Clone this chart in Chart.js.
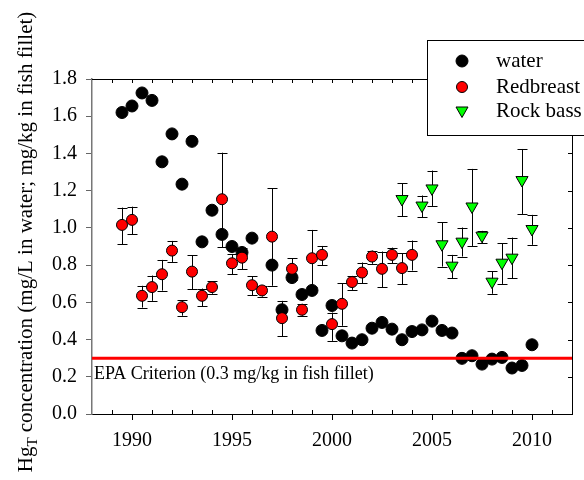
<!DOCTYPE html>
<html>
<head>
<meta charset="utf-8">
<script src="https://cdn.jsdelivr.net/npm/chart.js@4"></script>
<style>
  html, body { margin: 0; padding: 0; background: #fff; }
  #wrap { width: 584px; height: 480px; }
</style>
</head>
<body>
<div id="wrap"><canvas id="chart" width="584" height="480"></canvas></div>
<script>
// water (black circles)
var waterYears = [1989.5, 1990, 1990.5, 1991, 1991.5, 1992, 1992.5, 1993, 1993.5, 1994, 1994.5, 1995, 1995.5, 1996,
    1997, 1997.5, 1998, 1998.5, 1999, 1999.5, 2000, 2000.5, 2001, 2001.5, 2002, 2002.5, 2003, 2003.5, 2004, 2004.5,
    2005, 2005.5, 2006, 2006.5, 2007, 2007.5, 2008, 2008.5, 2009, 2009.5, 2010];
var waterValues = [1.62, 1.655, 1.725, 1.685, 1.355, 1.505, 1.235, 1.465, 0.925, 1.095, 0.965, 0.90, 0.868, 0.945,
    0.80, 0.56, 0.733, 0.642, 0.664, 0.449, 0.583, 0.42, 0.381, 0.399, 0.461, 0.492, 0.456, 0.399, 0.443, 0.452,
    0.499, 0.449, 0.435, 0.299, 0.313, 0.268, 0.295, 0.304, 0.247, 0.261, 0.372];

// Redbreast (red circles) with error bars
var redYears = [1989.5, 1990, 1990.5, 1991, 1991.5, 1992, 1992.5, 1993, 1993.5, 1994, 1994.5, 1995, 1995.5, 1996, 1996.5,
    1997, 1997.5, 1998, 1998.5, 1999, 1999.5, 2000, 2000.5, 2001, 2001.5, 2002, 2002.5, 2003, 2003.5, 2004];
var redValues = [1.016, 1.043, 0.635, 0.682, 0.751, 0.878, 0.574, 0.765, 0.635, 0.682, 1.154, 0.81, 0.84, 0.692, 0.664,
    0.953, 0.515, 0.78, 0.56, 0.837, 0.855, 0.483, 0.592, 0.709, 0.76, 0.846, 0.78, 0.855, 0.784, 0.855];
var redLow = [0.912, 0.966, 0.572, 0.608, 0.663, 0.817, 0.528, 0.669, 0.578, 0.646, 0.896, 0.75, 0.778, 0.639, 0.631,
    0.689, 0.417, 0.72, 0.528, 0.685, 0.801, 0.393, 0.474, 0.667, 0.703, 0.807, 0.682, 0.81, 0.698, 0.771];
var redHigh = [1.109, 1.114, 0.689, 0.744, 0.828, 0.93, 0.61, 0.853, 0.674, 0.712, 1.404, 0.86, 0.89, 0.739, 0.689,
    1.213, 0.608, 0.837, 0.592, 0.989, 0.903, 0.545, 0.703, 0.742, 0.814, 0.878, 0.873, 0.894, 0.864, 0.932];

// Rock bass (green triangles) with error bars
var bassYears = [2003.5, 2004.5, 2005, 2005.5, 2006, 2006.5, 2007, 2007.5, 2008, 2008.5, 2009, 2009.5, 2010];
var bassValues = [1.155, 1.12, 1.212, 0.912, 0.797, 0.926, 1.115, 0.958, 0.711, 0.813, 0.84, 1.257, 0.994];
var bassLow = [1.064, 1.057, 1.118, 0.792, 0.73, 0.846, 0.903, 0.918, 0.646, 0.699, 0.73, 1.075, 0.909];
var bassHigh = [1.24, 1.174, 1.308, 1.03, 0.855, 1.002, 1.317, 0.984, 0.766, 0.918, 0.948, 1.424, 1.07];

var xTicks = [1990, 1995, 2000, 2005, 2010];
var yTicks = [0, 0.2, 0.4, 0.6, 0.8, 1.0, 1.2, 1.4, 1.6, 1.8];
var epaLevel = 0.3;
var epaLabel = 'EPA Criterion (0.3 mg/kg in fish fillet)';
var legendLabels = ['water', 'Redbreast', 'Rock bass'];

var SERIF = '"Liberation Serif", "Times New Roman", serif';

function pts(xs, ys) {
    return xs.map(function(x, i) { return { x: x, y: ys[i] }; });
}

// error bars drawn just before the dataset's own markers
var errorBars = {
    id: 'errorBars',
    beforeDatasetDraw: function(chart, args) {
        var ds = chart.data.datasets[args.index];
        if (!ds.errLow) return;
        var ctx = chart.ctx, xs = chart.scales.x, ys = chart.scales.y;
        ctx.save();
        ctx.strokeStyle = '#000';
        ctx.lineWidth = 1;
        ds.data.forEach(function(p, i) {
            var px = Math.round(xs.getPixelForValue(p.x)) + 0.5;
            var lo = ys.getPixelForValue(ds.errLow[i]);
            var hi = ys.getPixelForValue(ds.errHigh[i]);
            ctx.beginPath();
            ctx.moveTo(px, lo); ctx.lineTo(px, hi);
            ctx.moveTo(px - 5, Math.round(lo) + 0.5); ctx.lineTo(px + 5, Math.round(lo) + 0.5);
            ctx.moveTo(px - 5, Math.round(hi) + 0.5); ctx.lineTo(px + 5, Math.round(hi) + 0.5);
            ctx.stroke();
        });
        ctx.restore();
    }
};

// EPA line + label
var epaLine = {
    id: 'epaLine',
    afterDatasetsDraw: function(chart) {
        var ctx = chart.ctx, a = chart.chartArea;
        var py = chart.scales.y.getPixelForValue(epaLevel);
        ctx.save();
        ctx.strokeStyle = '#ff0000';
        ctx.lineWidth = 3;
        ctx.beginPath();
        ctx.moveTo(a.left, py); ctx.lineTo(a.right, py);
        ctx.stroke();
        ctx.fillStyle = '#000';
        ctx.font = '18px ' + SERIF;
        ctx.textBaseline = 'alphabetic';
        ctx.fillText(epaLabel, a.left + 2, py + 21);
        ctx.restore();
    }
};

// top/right frame, inner minor ticks, legend box, y title with subscript
var frame = {
    id: 'frame',
    afterDraw: function(chart) {
        var ctx = chart.ctx, a = chart.chartArea, xs = chart.scales.x, ys = chart.scales.y;
        ctx.save();
        ctx.strokeStyle = '#000';
        ctx.lineWidth = 1;
        ctx.beginPath();
        ctx.moveTo(a.left, a.top + 0.5); ctx.lineTo(a.right, a.top + 0.5);
        ctx.moveTo(a.right + 0.5, a.top); ctx.lineTo(a.right + 0.5, a.bottom);
        for (var yr = 1989; yr <= 2011; yr++) {
            var px = Math.round(xs.getPixelForValue(yr)) + 0.5;
            if (yr % 5 !== 0) {
                ctx.moveTo(px, a.bottom); ctx.lineTo(px, a.bottom - 4);
            }
            ctx.moveTo(px, a.top); ctx.lineTo(px, a.top + 4);
        }
        yTicks.forEach(function(v) {
            var py = Math.round(ys.getPixelForValue(v)) + 0.5;
            ctx.moveTo(a.right, py); ctx.lineTo(a.right - 4, py);
        });
        ctx.stroke();

        // legend
        ctx.fillStyle = '#fff';
        ctx.fillRect(427, 40, 170, 95);
        ctx.strokeRect(427.5, 40.5, 170, 95);
        var rows = [61, 87, 111];
        var mx = 462;
        ctx.lineWidth = 1;
        ctx.strokeStyle = '#000';
        ctx.fillStyle = '#000';
        ctx.beginPath(); ctx.arc(mx, rows[0], 6, 0, Math.PI * 2); ctx.fill(); ctx.stroke();
        ctx.fillStyle = '#ff0000';
        ctx.beginPath(); ctx.arc(mx, rows[1], 5.5, 0, Math.PI * 2); ctx.fill(); ctx.stroke();
        ctx.fillStyle = '#00ff00';
        ctx.beginPath();
        ctx.moveTo(mx - 6, rows[2] - 4); ctx.lineTo(mx + 6, rows[2] - 4); ctx.lineTo(mx, rows[2] + 6.5);
        ctx.closePath(); ctx.fill(); ctx.stroke();
        ctx.fillStyle = '#000';
        ctx.font = '21px ' + SERIF;
        ctx.textBaseline = 'middle';
        legendLabels.forEach(function(t, i) { ctx.fillText(t, 496, rows[i]); });

        // y title
        var big = '21px ' + SERIF, small = '15px ' + SERIF;
        var p1 = 'Hg', p2 = 'T', p3 = ' concentration (mg/L in water; mg/kg in fish fillet)';
        ctx.font = big; var w1 = ctx.measureText(p1).width, w3 = ctx.measureText(p3).width;
        ctx.font = small; var w2 = ctx.measureText(p2).width;
        var total = w1 + w2 + w3;
        ctx.translate(32, 242);
        ctx.rotate(-Math.PI / 2);
        ctx.textBaseline = 'alphabetic';
        var x0 = -total / 2;
        ctx.font = big; ctx.fillText(p1, x0, 0);
        ctx.font = small; ctx.fillText(p2, x0 + w1, 5);
        ctx.font = big; ctx.fillText(p3, x0 + w1 + w2, 0);
        ctx.restore();
    }
};

var ctx = document.getElementById('chart').getContext('2d');
var chart = new Chart(ctx, {
    type: 'scatter',
    data: {
        datasets: [{
            label: legendLabels[2],
            data: pts(bassYears, bassValues),
            errLow: bassLow,
            errHigh: bassHigh,
            order: 1,
            pointStyle: 'triangle',
            rotation: 180,
            pointRadius: 7,
            pointHoverRadius: 7,
            backgroundColor: '#00ff00',
            borderColor: '#000',
            borderWidth: 1
        }, {
            label: legendLabels[1],
            data: pts(redYears, redValues),
            errLow: redLow,
            errHigh: redHigh,
            order: 2,
            pointRadius: 5.5,
            pointHoverRadius: 5.5,
            backgroundColor: '#ff0000',
            borderColor: '#000',
            borderWidth: 1
        }, {
            label: legendLabels[0],
            data: pts(waterYears, waterValues),
            order: 3,
            pointRadius: 6,
            pointHoverRadius: 6,
            backgroundColor: '#000',
            borderColor: '#000',
            borderWidth: 1
        }]
    },
    options: {
        responsive: false,
        animation: false,
        layout: { padding: { left: 0, right: 12, top: 79, bottom: 0 } },
        plugins: {
            legend: { display: false },
            tooltip: { enabled: false }
        },
        scales: {
            x: {
                type: 'linear',
                min: 1988,
                max: 2012,
                afterBuildTicks: function(s) { s.ticks = xTicks.map(function(v) { return { value: v }; }); },
                afterFit: function(s) { s.height = 66; },
                grid: { drawOnChartArea: false, drawTicks: true, tickLength: 6, color: '#000' },
                border: { display: true, color: '#000', width: 1 },
                ticks: {
                    color: '#000',
                    font: { family: SERIF, size: 20 },
                    padding: 9,
                    maxRotation: 0,
                    callback: function(v) { return String(v); }
                }
            },
            y: {
                min: 0,
                max: 1.8,
                afterBuildTicks: function(s) { s.ticks = yTicks.map(function(v) { return { value: v }; }); },
                afterFit: function(s) { s.width = 92; },
                grid: { drawOnChartArea: false, drawTicks: true, tickLength: 6, color: '#666' },
                border: { display: true, color: '#777', width: 1.5 },
                ticks: {
                    color: '#000',
                    font: { family: SERIF, size: 20 },
                    padding: 9,
                    callback: function(v) { return Number(v).toFixed(1); }
                }
            }
        }
    },
    plugins: [errorBars, epaLine, frame]
});
</script>
</body>
</html>
